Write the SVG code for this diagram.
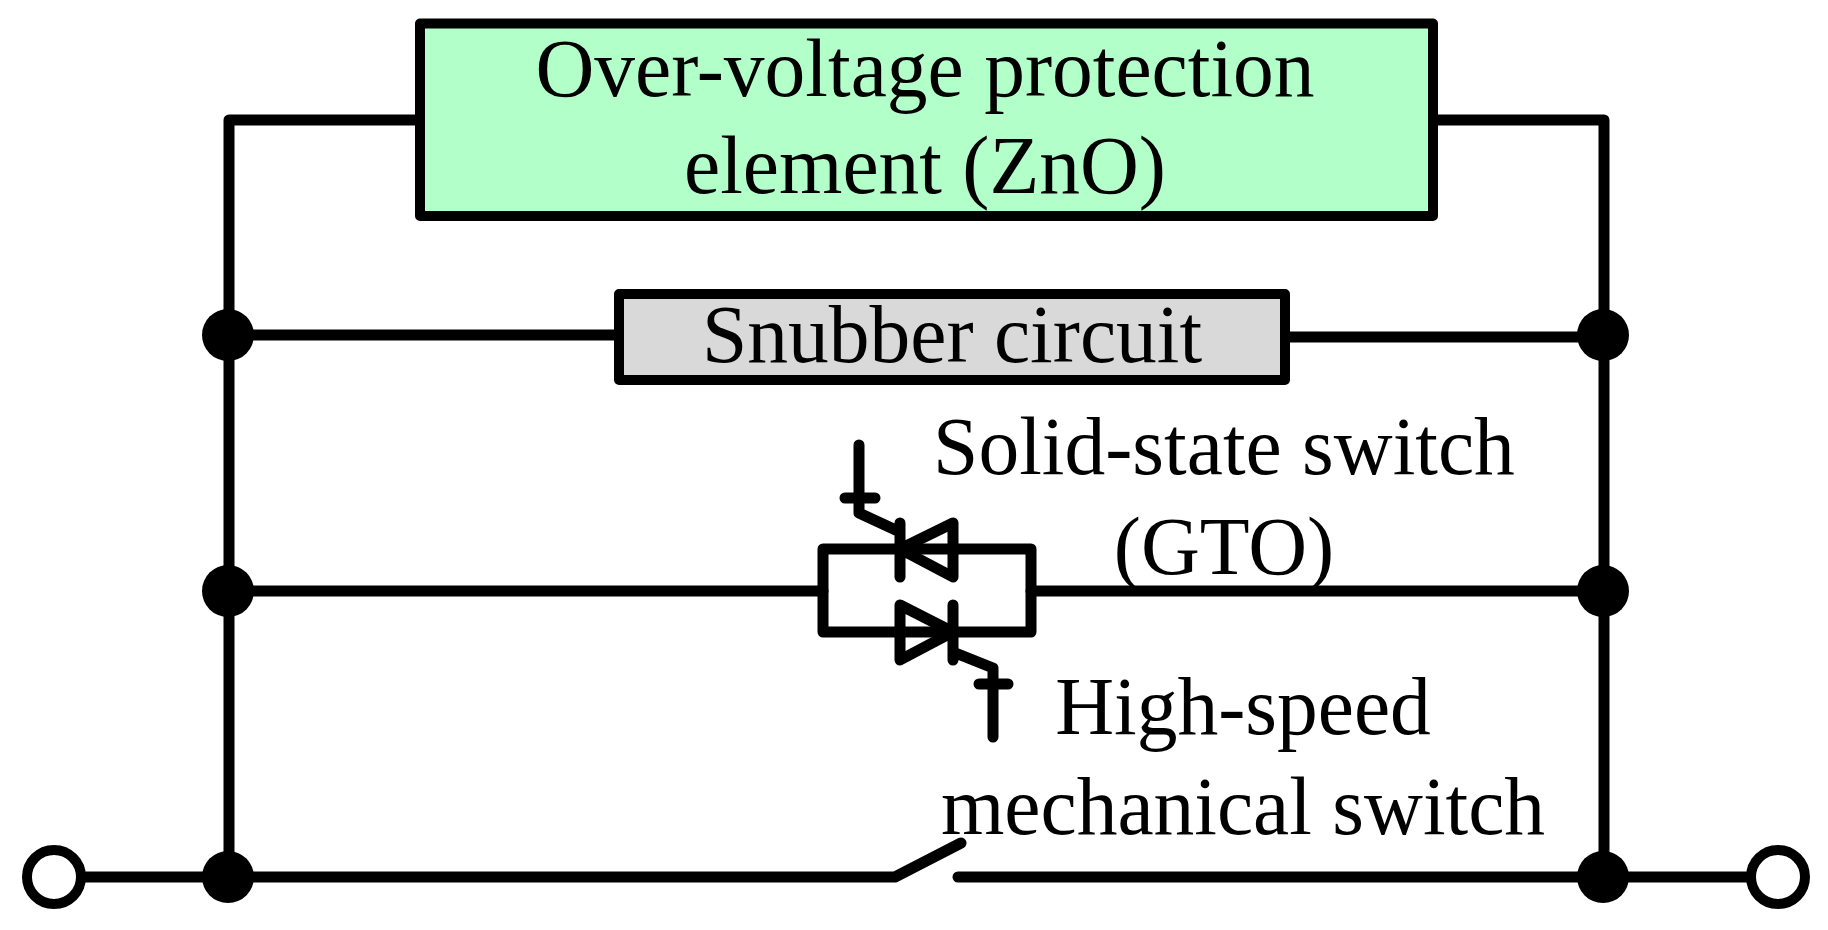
<svg xmlns="http://www.w3.org/2000/svg" width="1828" height="930" viewBox="0 0 1828 930">
<style>
.w{fill:none;stroke:#000;stroke-width:11;stroke-linecap:round;stroke-linejoin:round}
.d{fill:#000}
.o{fill:#fff;stroke:#000;stroke-width:10}
.box{stroke:#000;stroke-width:10;stroke-linejoin:round}
text{font-family:"Liberation Serif","Times New Roman",serif;font-size:81.5px;fill:#000;text-anchor:middle}
</style>
<rect width="1828" height="930" fill="#fff"/>
<g id="connectors">
<path class="w" d="M417 120H229V877"/>
<path class="w" d="M1434 120H1604V877"/>
<path class="w" d="M229 335H618"/>
<path class="w" d="M1287 337H1604"/>
<path class="w" d="M229 591H823"/>
<path class="w" d="M1031 591H1604"/>
<path class="w" d="M54 877H895L961 843"/>
<path class="w" d="M958 877H1604H1780"/>
</g>
<g id="ovp"><rect class="box" x="420" y="23.5" width="1013" height="192.5" fill="#b3ffc9"/><text x="925" y="96">Over-voltage protection</text><text x="925" y="193">element (ZnO)</text></g>
<g id="snubber"><rect class="box" x="619" y="294" width="666" height="86" fill="#d9d9d9"/><text x="952" y="362">Snubber circuit</text></g>
<g id="gto">
<path class="w" d="M823 549H1031V632H823Z"/>
<path class="w" d="M900 523V577M953 523V577L900 549ZM859 445V513L900 532M845 498H875"/>
<path class="w" d="M953 605V660M900 605V660L953 632ZM993 737V668L953 652M979 684H1008"/>
<text x="1224" y="474">Solid-state switch</text><text x="1224" y="574">(GTO)</text>
</g>
<g id="switch"><text x="1243" y="734">High-speed</text><text x="1243" y="834">mechanical switch</text></g>
<g id="j1"><circle class="d" cx="228" cy="335" r="26"/></g>
<g id="j2"><circle class="d" cx="1603" cy="335" r="26"/></g>
<g id="j3"><circle class="d" cx="228" cy="591" r="26"/></g>
<g id="j4"><circle class="d" cx="1603" cy="591" r="26"/></g>
<g id="j5"><circle class="d" cx="228" cy="877" r="26"/></g>
<g id="j6"><circle class="d" cx="1603" cy="877" r="26"/></g>
<g id="t1"><circle class="o" cx="54" cy="877" r="27"/></g>
<g id="t2"><circle class="o" cx="1778" cy="877" r="27"/></g>
</svg>
